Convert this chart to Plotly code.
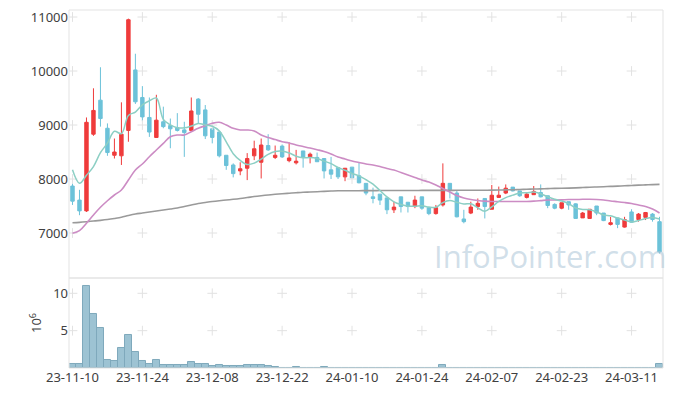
import plotly.graph_objects as go

dates = [
    "23-11-10", "23-11-13", "23-11-14", "23-11-15", "23-11-16", "23-11-17",
    "23-11-20", "23-11-21", "23-11-22", "23-11-23", "23-11-24",
    "23-11-27", "23-11-28", "23-11-29", "23-11-30", "23-12-01",
    "23-12-04", "23-12-05", "23-12-06", "23-12-07", "23-12-08",
    "23-12-11", "23-12-12", "23-12-13", "23-12-14", "23-12-15",
    "23-12-18", "23-12-19", "23-12-20", "23-12-21", "23-12-22",
    "23-12-26", "23-12-27", "23-12-28",
    "24-01-02", "24-01-03", "24-01-04", "24-01-05",
    "24-01-08", "24-01-09", "24-01-10", "24-01-11", "24-01-12",
    "24-01-15", "24-01-16", "24-01-17", "24-01-18", "24-01-19",
    "24-01-22", "24-01-23", "24-01-24", "24-01-25", "24-01-26",
    "24-01-29", "24-01-30", "24-01-31", "24-02-01", "24-02-02",
    "24-02-05", "24-02-06", "24-02-07", "24-02-08",
    "24-02-13", "24-02-14", "24-02-15", "24-02-16",
    "24-02-19", "24-02-20", "24-02-21", "24-02-22", "24-02-23",
    "24-02-26", "24-02-27", "24-02-28", "24-02-29",
    "24-03-04", "24-03-05", "24-03-06", "24-03-07", "24-03-08",
    "24-03-11", "24-03-12", "24-03-13", "24-03-14", "24-03-15",
]

open_ = [7870, 7610, 7410, 8830, 9460, 8940, 8440, 8430, 8900, 10020,
         9510, 9140, 8770, 9060, 8990, 8950, 8910, 8900, 9480, 9280,
         8930, 8870, 8440, 8260, 8150, 8200, 8430, 8310, 8620, 8400,
         8610, 8340, 8300, 8520, 8410, 8400, 8380, 8170, 8210, 8040,
         8220, 8060, 7920, 7670, 7720, 7650, 7430, 7670, 7570, 7490,
         7670, 7470, 7360, 7520, 7920, 7740, 7260, 7370, 7490, 7640,
         7440, 7660, 7740, 7850, 7780, 7660, 7710, 7750, 7690, 7530,
         7460, 7580, 7540, 7280, 7270, 7500, 7370, 7160, 7280, 7110,
         7390, 7250, 7290, 7350, 7210]
high = [7930, 7800, 9140, 9680, 10070, 9030, 8750, 9420, 10970, 10320,
        9720, 9510, 9560, 9340, 9120, 9220, 9060, 9510, 9500, 9370,
        8940, 8880, 8440, 8290, 8310, 8480, 8710, 8750, 8830, 8620,
        8640, 8680, 8540, 8520, 8490, 8490, 8380, 8410, 8210, 8200,
        8220, 8300, 7920, 7840, 7720, 7650, 7580, 7670, 7570, 7690,
        7670, 7470, 7520, 8290, 7920, 7780, 7430, 7580, 7640, 7640,
        7890, 7860, 7900, 7850, 7780, 7740, 7870, 7900, 7690, 7550,
        7560, 7580, 7550, 7390, 7440, 7500, 7370, 7300, 7280, 7300,
        7440, 7370, 7390, 7370, 7300]
low = [7520, 7330, 7390, 8800, 8970, 8430, 8380, 8260, 8690, 9390,
       9070, 8780, 8760, 8940, 8570, 8880, 8410, 8880, 9030, 8740,
       8660, 8400, 8170, 8030, 8070, 7980, 8350, 8010, 8520, 8370,
       8390, 8310, 8270, 8210, 8290, 8320, 8010, 8000, 8000, 7960,
       8010, 7920, 7700, 7550, 7520, 7350, 7370, 7380, 7380, 7460,
       7430, 7330, 7340, 7490, 7640, 7290, 7180, 7350, 7430, 7270,
       7440, 7650, 7720, 7770, 7670, 7640, 7710, 7660, 7460, 7440,
       7440, 7430, 7270, 7280, 7260, 7330, 7220, 7140, 7090, 7100,
       7190, 7210, 7240, 7210, 6620]
close = [7590, 7410, 9050, 9270, 9120, 8490, 8500, 8830, 10950, 9430,
         9150, 8870, 9090, 8970, 8930, 8900, 8860, 9260, 9200, 8800,
         8770, 8430, 8250, 8100, 8190, 8380, 8560, 8630, 8540, 8440,
         8410, 8390, 8330, 8400, 8460, 8320, 8150, 8090, 8040, 8200,
         8020, 7930, 7740, 7640, 7610, 7430, 7480, 7490, 7490, 7610,
         7460, 7360, 7470, 7920, 7800, 7300, 7210, 7480, 7550, 7490,
         7700, 7700, 7830, 7780, 7690, 7720, 7770, 7670, 7510, 7460,
         7560, 7520, 7270, 7370, 7440, 7370, 7230, 7190, 7160, 7250,
         7200, 7350, 7380, 7250, 6650]

ma5 = [8170, 7920, 8070, 8230, 8488, 8666, 8884, 8840, 9177, 9240,
       9374, 9448, 9500, 9104, 9002, 8951, 8948, 8981, 9027, 9002,
       8976, 8891, 8689, 8469, 8345, 8269, 8294, 8370, 8458, 8510,
       8516, 8483, 8423, 8395, 8397, 8379, 8332, 8284, 8213, 8162,
       8102, 8058, 7986, 7905, 7787, 7668, 7578, 7528, 7498, 7498,
       7505, 7480, 7476, 7563, 7600, 7569, 7539, 7541, 7467, 7405,
       7485, 7584, 7655, 7701, 7742, 7746, 7758, 7727, 7671, 7624,
       7592, 7543, 7463, 7435, 7431, 7392, 7334, 7318, 7277, 7240,
       7206, 7230, 7267, 7286, 7260]
ma20 = [6994, 7043, 7180, 7333, 7476, 7598, 7704, 7796, 7982, 8167,
        8278, 8413, 8537, 8661, 8783, 8815, 8815, 8876, 8939, 8987,
        9032, 9050, 9000, 8939, 8908, 8908, 8889, 8815, 8768, 8730,
        8691, 8667, 8630, 8602, 8574, 8543, 8509, 8463, 8407, 8370,
        8333, 8306, 8278, 8259, 8231, 8194, 8167, 8120, 8074, 8028,
        7982, 7944, 7889, 7824, 7759, 7694, 7648, 7620, 7602, 7590,
        7585, 7583, 7583, 7583, 7583, 7585, 7590, 7600, 7611, 7611,
        7614, 7620, 7620, 7624, 7624, 7620, 7611, 7593, 7580, 7565,
        7546, 7519, 7491, 7444, 7370]
ma60 = [7191, 7198, 7209, 7222, 7235, 7250, 7269, 7291, 7324, 7352,
        7370, 7389, 7407, 7426, 7444, 7463, 7491, 7519, 7546, 7565,
        7583, 7598, 7611, 7624, 7639, 7657, 7676, 7691, 7704, 7717,
        7728, 7737, 7746, 7754, 7759, 7765, 7772, 7778, 7783, 7783,
        7784, 7784, 7785, 7785, 7786, 7786, 7787, 7787, 7788, 7788,
        7789, 7789, 7790, 7790, 7790, 7791, 7791, 7792, 7792, 7793,
        7794, 7796, 7799, 7802, 7806, 7810, 7814, 7818, 7822, 7826,
        7829, 7832, 7836, 7842, 7848, 7853, 7858, 7863, 7868, 7874,
        7880, 7886, 7891, 7896, 7900]

volume_m = [0.6, 0.5, 11.0, 7.2, 5.3, 1.05, 0.95, 2.65, 4.4, 2.1,
            0.95, 0.5, 1.05, 0.4, 0.35, 0.35, 0.35, 0.75, 0.6, 0.5,
            0.25, 0.35, 0.22, 0.22, 0.22, 0.35, 0.35, 0.35, 0.25, 0.08,
            0.06, 0.06, 0.2, 0.06, 0.05, 0.05, 0.2, 0.05, 0.04, 0.04,
            0.04, 0.04, 0.04, 0.03, 0.03, 0.03, 0.03, 0.03, 0.03, 0.03,
            0.03, 0.03, 0.03, 0.38, 0.05, 0.04, 0.03, 0.03, 0.03, 0.03,
            0.03, 0.03, 0.03, 0.03, 0.03, 0.03, 0.03, 0.03, 0.03, 0.03,
            0.03, 0.03, 0.03, 0.03, 0.03, 0.03, 0.03, 0.03, 0.03, 0.03,
            0.03, 0.03, 0.03, 0.03, 0.5]

price_ticks = [7000, 8000, 9000, 10000, 11000]
price_labels = ["7000", "8000", "9000", "10000", "11000"]
volume_ticks = [5, 10]
volume_labels = ["5", "10"]
tick_dates = dates[::10]

UP = "#ef3b3b"
DOWN = "#6cc2d9"
FONT = "Noto Sans"
VOL_DOMAIN = 0.2514
CROSS = dict(symbol="cross-thin", size=7, line=dict(color="#e2e2e2", width=1))

fig = go.Figure()

# grid crosses
cx = [d for d in tick_dates for _ in price_ticks]
cy = [p for _ in tick_dates for p in price_ticks]
fig.add_trace(go.Scatter(x=cx, y=cy, mode="markers", xaxis="x", yaxis="y",
                         marker=CROSS, hoverinfo="skip", showlegend=False))
vx = [d for d in tick_dates for _ in volume_ticks]
vy = [v for _ in tick_dates for v in volume_ticks]
fig.add_trace(go.Scatter(x=vx, y=vy, mode="markers", xaxis="x", yaxis="y2",
                         marker=CROSS, hoverinfo="skip", showlegend=False))

fig.add_trace(go.Candlestick(
    x=dates, open=open_, high=high, low=low, close=close,
    xaxis="x", yaxis="y",
    increasing=dict(line=dict(color=UP, width=1), fillcolor=UP),
    decreasing=dict(line=dict(color=DOWN, width=1), fillcolor=DOWN),
    whiskerwidth=0, showlegend=False))

fig.add_trace(go.Scatter(x=dates, y=ma60, mode="lines", xaxis="x", yaxis="y",
                         line=dict(color="#9a9a9a", width=1.6, shape="spline"),
                         showlegend=False))
fig.add_trace(go.Scatter(x=dates, y=ma20, mode="lines", xaxis="x", yaxis="y",
                         line=dict(color="#cc8cc4", width=1.6, shape="spline"),
                         showlegend=False))
fig.add_trace(go.Scatter(x=dates, y=ma5, mode="lines", xaxis="x", yaxis="y",
                         line=dict(color="#8ccfc4", width=1.5, shape="spline"),
                         showlegend=False))

fig.add_trace(go.Bar(x=dates, y=volume_m, xaxis="x", yaxis="y2",
                     marker=dict(color="rgba(146,189,206,0.9)",
                                 line=dict(color="#7fa9bc", width=1)),
                     showlegend=False))

# page body has an 8px margin, so the figure is sized to fit the window
fig.update_layout(
    width=665, height=388,
    margin=dict(l=61, r=10, t=2, b=28, autoexpand=False),
    paper_bgcolor="white", plot_bgcolor="white",
    font=dict(family=FONT, size=13, color="#404040"),
    bargap=0,
    xaxis=dict(type="category", categoryorder="array", categoryarray=dates,
               anchor="y2", range=[-0.5, 84.5], automargin=False,
               ticklabeloverflow="allow",
               tickmode="array", tickvals=tick_dates, ticktext=tick_dates,
               tickangle=0,
               showgrid=False, zeroline=False, showline=False,
               ticks="", rangeslider=dict(visible=False),
               tickfont=dict(size=13, color="#404040")),
    yaxis=dict(domain=[VOL_DOMAIN, 1], range=[6167, 11130], automargin=False,
               ticklabeloverflow="allow",
               tickmode="array", tickvals=price_ticks, ticktext=price_labels,
               showgrid=False, zeroline=False, showline=False, ticks="",
               tickfont=dict(size=13, color="#404040")),
    yaxis2=dict(domain=[0, VOL_DOMAIN], range=[0, 12.05], automargin=False,
                ticklabeloverflow="allow",
                tickmode="array", tickvals=volume_ticks, ticktext=volume_labels,
                showgrid=False, zeroline=False, showline=False, ticks="",
                title=dict(text="10<sup>6</sup>", standoff=8,
                           font=dict(size=13, color="#404040")),
                tickfont=dict(size=13, color="#404040")),
    shapes=[
        dict(type="rect", xref="paper", yref="paper", x0=0, x1=1,
             y0=VOL_DOMAIN, y1=1, line=dict(color="#e3e3e3", width=1),
             layer="above"),
        dict(type="rect", xref="paper", yref="paper", x0=0, x1=1,
             y0=0, y1=VOL_DOMAIN, line=dict(color="#e3e3e3", width=1),
             layer="above"),
    ],
    annotations=[
        dict(text="InfoPointer.com", xref="paper", yref="paper",
             x=0.81, y=0.313, xanchor="center", yanchor="middle",
             showarrow=False,
             font=dict(family="Open Sans", size=31,
                       color="rgba(170,196,214,0.55)")),
    ],
)

fig.write_html("out.html")
